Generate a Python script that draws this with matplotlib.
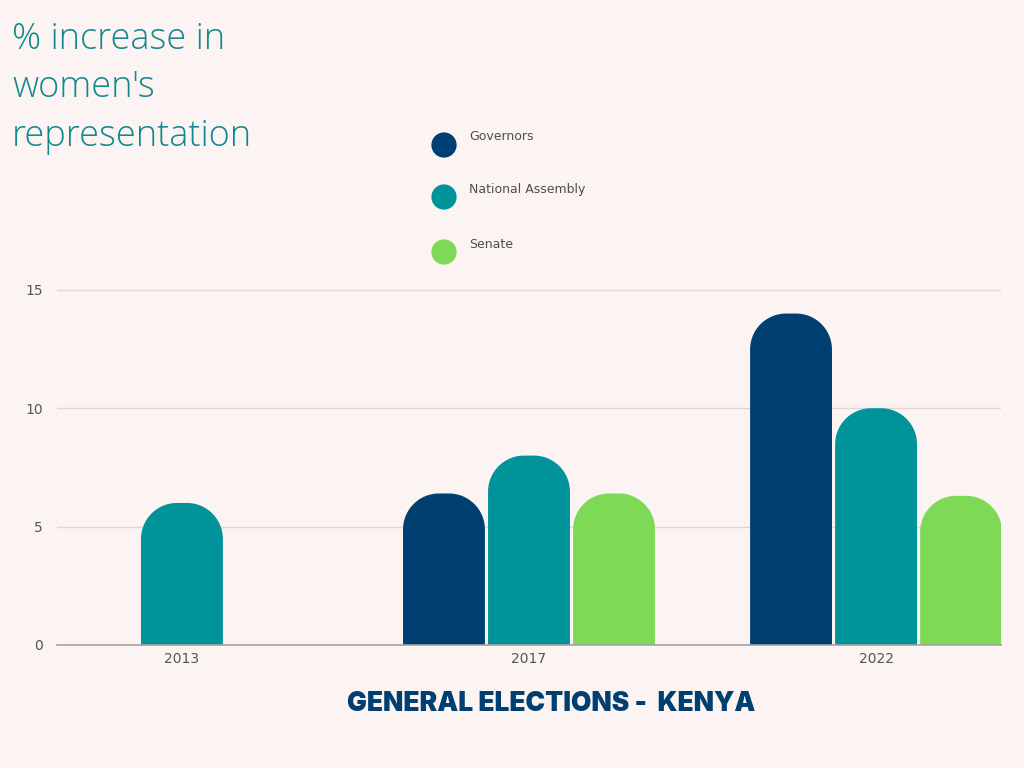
import numpy as np
import matplotlib.pyplot as plt
from matplotlib.patches import PathPatch
from matplotlib.path import Path

years = ["2013", "2017", "2022"]
governors = [0, 6.4, 14.0]
national_assembly = [6.0, 8.0, 10.0]
senate = [0, 6.4, 6.3]
series_names = ["Governors", "National Assembly", "Senate"]
series_colors = ["#003F72", "#00939A", "#7ED957"]
yticks = [0, 5, 10, 15]

BG = "#FCF4F2"
W, H = 1024, 768

fig = plt.figure(figsize=(W / 100, H / 100), dpi=100, facecolor=BG)
ax_l, ax_r, ax_b, ax_t = 57, 1001, 645, 278
ax = fig.add_axes([ax_l / W, (H - ax_b) / H, (ax_r - ax_l) / W, (ax_b - ax_t) / H])
ax.set_facecolor(BG)
xlim = (-0.36, 2.36)
ylim = (0, 15.5)
ax.set_xlim(*xlim)
ax.set_ylim(*ylim)

# pixels per data unit, so the rounded tops stay circular on screen
px_x = (ax_r - ax_l) / (xlim[1] - xlim[0])
px_y = (ax_b - ax_t) / (ylim[1] - ylim[0])
radius_px = 36
rx = radius_px / px_x
ry = radius_px / px_y


def rounded_bar(xc, w, h, color):
    t = np.linspace(np.pi, 0, 40)
    left = xc - w / 2 + rx
    right = xc + w / 2 - rx
    top = h - ry
    arc_l = np.column_stack([left + rx * np.cos(t[:20]), top + ry * np.sin(t[:20])])
    arc_r = np.column_stack([right + rx * np.cos(t[20:]), top + ry * np.sin(t[20:])])
    verts = np.vstack([[xc - w / 2, 0], arc_l, arc_r, [xc + w / 2, 0], [xc - w / 2, 0]])
    codes = [Path.MOVETO] + [Path.LINETO] * (len(verts) - 2) + [Path.CLOSEPOLY]
    ax.add_patch(PathPatch(Path(verts, codes), facecolor=color, edgecolor="none", zorder=3))


width = 0.236
step = 0.245
x = np.arange(len(years))
for i, (vals, color) in enumerate(zip([governors, national_assembly, senate], series_colors)):
    for xi, v in zip(x + (i - 1) * step, vals):
        if v > 0:
            rounded_bar(xi, width, v, color)

ax.set_yticks(yticks)
ax.set_xticks(x)
ax.set_xticklabels(years)
ax.grid(axis="y", color="#DCD6D5", linewidth=1, zorder=0)
for s in ["top", "right", "left"]:
    ax.spines[s].set_visible(False)
ax.spines["bottom"].set_color("#A8A2A1")
ax.spines["bottom"].set_linewidth(1.2)
ax.spines["bottom"].set_zorder(4)
ax.tick_params(length=0, labelsize=10, labelcolor="#555555")
ax.tick_params(axis="x", pad=5)
ax.tick_params(axis="y", pad=10)

# legend, drawn by hand on an overlay in pixel coordinates
lax = fig.add_axes([0, 0, 1, 1], facecolor="none")
lax.set_xlim(0, W)
lax.set_ylim(H, 0)
lax.axis("off")
leg_y = [145, 197, 252]
lax.scatter([444] * 3, leg_y, s=330, c=series_colors, edgecolors="none")
for name, yy in zip(series_names, leg_y):
    lax.text(469, yy - 8, name, ha="left", va="center", fontsize=9, color="#4D4D4D")

fig.text(12 / W, 1 - 21 / H, "% increase in\nwomen's\nrepresentation",
         ha="left", va="top", fontsize=26, color="#10898F",
         family="Open Sans", fontweight="light", linespacing=1.41)

fig.text(551 / W, 1 - 704 / H, "GENERAL ELECTIONS -  KENYA", ha="center",
         va="center", fontsize=19, color="#003F72", family="Inter",
         fontweight="black")

fig.savefig("out.png", dpi=100, facecolor=BG)
